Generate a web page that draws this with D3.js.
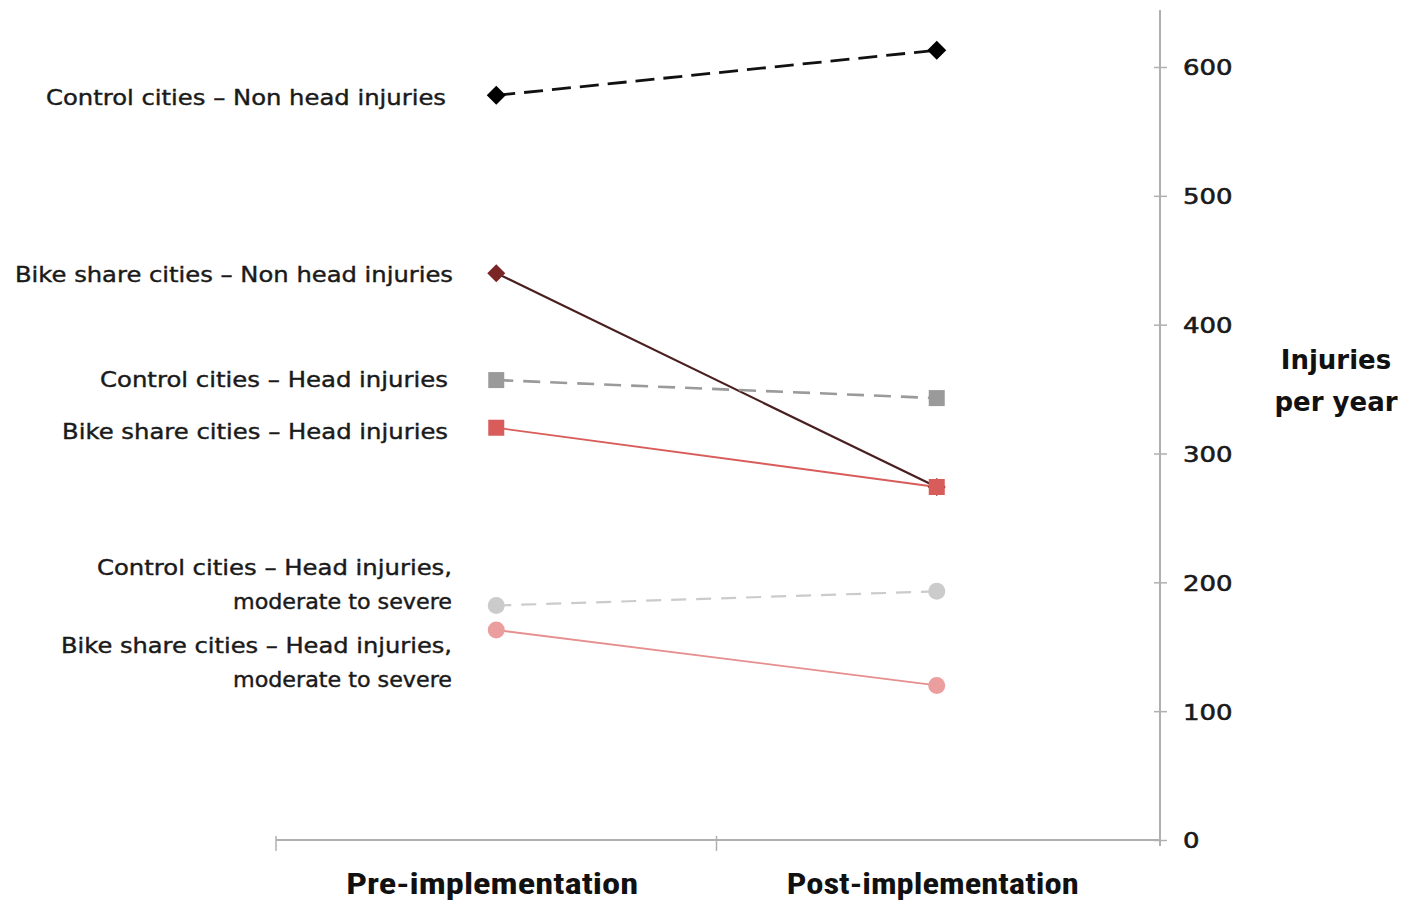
<!DOCTYPE html>
<html>
<head>
<meta charset="utf-8">
<script src="https://cdn.jsdelivr.net/npm/d3@7"></script>
<style>
  html, body { margin: 0; padding: 0; background: #fff; }
  svg { display: block; }
</style>
</head>
<body>
<svg id="chart" width="1402" height="900"></svg>
<script>
// Periods on the x axis
const periods = ["Pre-implementation", "Post-implementation"];

// Injury series (injuries per year, pre / post)
const seriesNames = [
  ["Control cities \u2013 Non head injuries"],
  ["Bike share cities \u2013 Non head injuries"],
  ["Control cities \u2013 Head injuries"],
  ["Bike share cities \u2013 Head injuries"],
  ["Control cities \u2013 Head injuries,", "moderate to severe"],
  ["Bike share cities \u2013 Head injuries,", "moderate to severe"]
];
const controlNonHead   = [578, 613];
const bikeNonHead      = [440, 274];
const controlHead      = [357, 343];
const bikeHead         = [320, 274];
const controlModSevere = [182, 193];
const bikeModSevere    = [163, 120];

const yTicks = [0, 100, 200, 300, 400, 500, 600];
const yTitle = ["Injuries", "per year"];

// Styling per series
const styles = [
  { values: controlNonHead,   color: "#000000", line: "#111111", width: 2.8, dash: "19,9", shape: "diamond", size: 19 },
  { values: bikeNonHead,      color: "#7b2626", line: "#4a1f1f", width: 2.2, dash: null,   shape: "diamond", size: 18 },
  { values: controlHead,      color: "#9a9a9a", line: "#9a9a9a", width: 2.6, dash: "17,10", shape: "square", size: 16 },
  { values: bikeHead,         color: "#d85c5a", line: "#d85c5a", width: 1.8, dash: null,   shape: "square", size: 16 },
  { values: controlModSevere, color: "#cbcbcb", line: "#cbcbcb", width: 2.2, dash: "15,10", shape: "circle", size: 17 },
  { values: bikeModSevere,    color: "#eb9e9e", line: "#e78e8e", width: 1.8, dash: null,   shape: "circle", size: 17 }
];

const svg = d3.select("#chart");
const labelFont = "'DejaVu Sans', sans-serif";

const x = d3.scaleBand().domain(periods).range([276, 1157]);
const y = d3.scaleLinear().domain([0, 600]).range([840, 67]);
const cx = p => x(p) + x.bandwidth() / 2;

// Right value axis
svg.append("line")
  .attr("x1", 1160).attr("x2", 1160).attr("y1", 10).attr("y2", 846)
  .attr("stroke", "#b0b0b0").attr("stroke-width", 2);

const yAxis = svg.append("g").attr("transform", "translate(1160,0)")
  .call(d3.axisRight(y).tickValues(yTicks).tickSize(7).tickPadding(16));
yAxis.select(".domain").remove();
yAxis.selectAll(".tick line").attr("stroke", "#b0b0b0").attr("stroke-width", 1.5).attr("x1", -6);
yAxis.selectAll(".tick text")
  .attr("font-family", labelFont).attr("font-size", 22).attr("fill", "#1a1a1a")
  .attr("stroke", "#1a1a1a").attr("stroke-width", 0.6)
  .attr("dy", "0.36em").attr("textLength", d => String(d).length * 16.5)
  .attr("lengthAdjust", "spacingAndGlyphs");

// Bottom category axis
svg.append("line")
  .attr("x1", 276).attr("x2", 1160).attr("y1", 840).attr("y2", 840)
  .attr("stroke", "#b0b0b0").attr("stroke-width", 2);
svg.selectAll(".xtick")
  .data(periods.map(p => x(p)))
  .join("line")
  .attr("x1", d => d).attr("x2", d => d)
  .attr("y1", 836).attr("y2", 851)
  .attr("stroke", "#b0b0b0").attr("stroke-width", 1.5);

svg.selectAll(".xlabel")
  .data(periods)
  .join("text")
  .attr("x", d => cx(d) - 4)
  .attr("y", 894)
  .attr("text-anchor", "middle")
  .attr("font-family", "'Liberation Sans Narrow', 'Roboto Condensed', Roboto, sans-serif")
  .attr("font-weight", "bold")
  .attr("font-size", 29)
  .attr("fill", "#111")
  .attr("textLength", 292)
  .attr("lengthAdjust", "spacingAndGlyphs")
  .text(d => d);

// Axis title
svg.append("text")
  .attr("x", 1336).attr("y", 369)
  .attr("text-anchor", "middle")
  .attr("font-family", labelFont).attr("font-weight", "bold")
  .attr("font-size", 26).attr("fill", "#111")
  .selectAll("tspan").data(yTitle).join("tspan")
  .attr("x", 1336).attr("dy", (d, i) => i === 0 ? 0 : 42)
  .text(d => d);

// Series lines
const line = d3.line().x((d, i) => cx(periods[i])).y(d => y(d));
svg.selectAll(".series")
  .data(styles)
  .join("path")
  .attr("d", s => line(s.values))
  .attr("fill", "none")
  .attr("stroke", s => s.line)
  .attr("stroke-width", s => s.width)
  .attr("stroke-dasharray", s => s.dash);

// Markers: head-injury squares sit above the non-head diamonds where they meet
const markers = svg.append("g");
styles.forEach(s => {
  s.values.forEach((v, i) => {
    const px = cx(periods[i]), py = y(v), r = s.size / 2;
    if (s.shape === "diamond") {
      markers.append("path")
        .attr("d", `M${px},${py - r}L${px + r},${py}L${px},${py + r}L${px - r},${py}Z`)
        .attr("fill", s.color);
    } else if (s.shape === "square") {
      markers.append("rect")
        .attr("x", px - r).attr("y", py - r).attr("width", s.size).attr("height", s.size)
        .attr("fill", s.color);
    } else {
      markers.append("circle").attr("cx", px).attr("cy", py).attr("r", r).attr("fill", s.color);
    }
  });
});

// Series labels on the left, right-aligned to the markers
const labelRight = [446, 453, 448, 448, 452, 452];
const labelY = [97, 274, 379, 431, 567, 645];
const labelWidths = [
  [400], [438], [348], [386], [355, 219], [391, 219]
];
seriesNames.forEach((lines, k) => {
  lines.forEach((t, j) => {
    svg.append("text")
      .attr("x", labelRight[k])
      .attr("y", labelY[k] + j * 34)
      .attr("dy", "0.36em")
      .attr("text-anchor", "end")
      .attr("font-family", labelFont)
      .attr("font-size", 21)
      .attr("fill", "#1a1a1a")
      .attr("stroke", "#1a1a1a")
      .attr("stroke-width", 0.4)
      .attr("textLength", labelWidths[k][j])
      .attr("lengthAdjust", "spacingAndGlyphs")
      .text(t);
  });
});
</script>
</body>
</html>
